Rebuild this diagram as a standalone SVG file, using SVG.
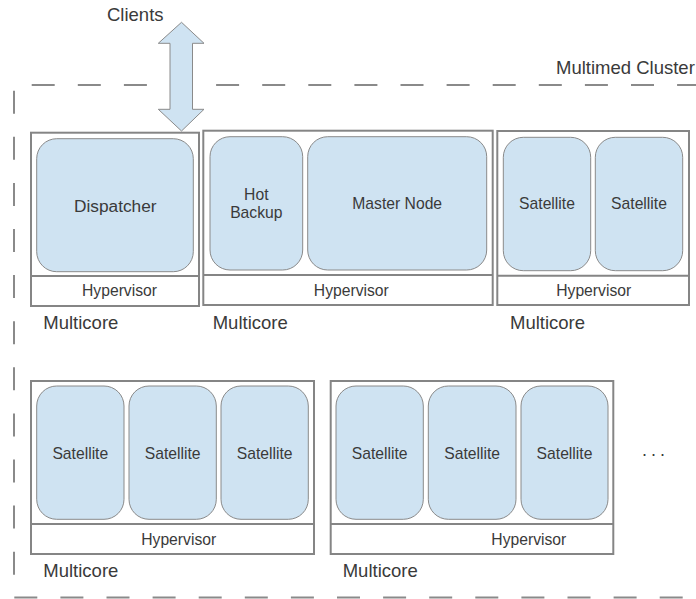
<svg xmlns="http://www.w3.org/2000/svg" width="696" height="599" viewBox="0 0 696 599">
<style>
text{font-family:"Liberation Sans",Arial,sans-serif;fill:#3a3a3a}
.mc{fill:#fff;stroke:#858585;stroke-width:2}
.vm{fill:#cfe3f2;stroke:#8a8a8a;stroke-width:1}
.dash{stroke:#8a8a8a;stroke-width:2;stroke-dasharray:23 23.1;fill:none}
.lbl{font-size:15.7px;text-anchor:middle}
.big{font-size:18.5px}
</style>
<rect width="696" height="599" fill="#fff"/>
<g id="cluster">
<line class="dash" x1="31.7" y1="85" x2="720" y2="85"/>
<line class="dash" x1="14" y1="90.7" x2="14" y2="576"/>
<line class="dash" x1="14.3" y1="597.5" x2="720" y2="597.5"/>
<text class="big" x="556" y="74">Multimed Cluster</text>
</g>
<g id="clients">
<text class="big" x="107" y="21">Clients</text>
</g>
<g id="connectors">
<polygon points="181.5,22.3 158.3,43.3 170,43.3 170,109.3 158.3,109.3 181.5,131 204,109.3 192.5,109.3 192.5,43.3 204,43.3" fill="#cfe3f2" stroke="#8a8a8a" stroke-width="1"/>
</g>
<g id="multicore1">
<rect class="mc" x="31" y="132.7" width="168" height="173.3"/>
<line x1="31" y1="276" x2="199" y2="276" stroke="#858585" stroke-width="2"/>
<rect class="vm" x="36.7" y="138.7" width="156.6" height="133" rx="20"/>
<text x="115.3" y="212" style="font-size:17.3px;text-anchor:middle">Dispatcher</text>
<text class="lbl" x="119.5" y="296">Hypervisor</text>
<text class="big" x="43.3" y="329">Multicore</text>
</g>
<g id="multicore2">
<rect class="mc" x="203.3" y="130.7" width="289.4" height="174.3"/>
<line x1="203.3" y1="275" x2="492.7" y2="275" stroke="#858585" stroke-width="2"/>
<rect class="vm" x="210" y="136.7" width="92.7" height="133.3" rx="20"/>
<text class="lbl" x="256.3" y="200">Hot</text>
<text class="lbl" x="256.3" y="218.3">Backup</text>
<rect class="vm" x="307.7" y="136.7" width="179" height="133.3" rx="20"/>
<text class="lbl" x="397.2" y="209.3">Master Node</text>
<text class="lbl" x="351.3" y="296">Hypervisor</text>
<text class="big" x="212.7" y="329">Multicore</text>
</g>
<g id="multicore3">
<rect class="mc" x="497.3" y="131" width="191.7" height="174"/>
<line x1="497.3" y1="275.7" x2="689" y2="275.7" stroke="#858585" stroke-width="2"/>
<rect class="vm" x="503.3" y="137.3" width="87.4" height="133.4" rx="20"/>
<text class="lbl" x="547" y="209.3">Satellite</text>
<rect class="vm" x="595.3" y="137.3" width="87.4" height="133.4" rx="20"/>
<text class="lbl" x="639" y="209.3">Satellite</text>
<text class="lbl" x="593.7" y="295.5">Hypervisor</text>
<text class="big" x="510" y="328.5">Multicore</text>
</g>
<g id="multicore4">
<rect class="mc" x="31" y="381" width="283" height="173"/>
<line x1="31" y1="524" x2="314" y2="524" stroke="#858585" stroke-width="2"/>
<rect class="vm" x="36.7" y="386" width="87.3" height="133.3" rx="20"/>
<text class="lbl" x="80.3" y="459.3">Satellite</text>
<rect class="vm" x="129" y="386" width="87.3" height="133.3" rx="20"/>
<text class="lbl" x="172.6" y="459.3">Satellite</text>
<rect class="vm" x="221" y="386" width="87.3" height="133.3" rx="20"/>
<text class="lbl" x="264.6" y="459.3">Satellite</text>
<text class="lbl" x="178.7" y="545">Hypervisor</text>
<text class="big" x="43.3" y="577">Multicore</text>
</g>
<g id="multicore5">
<rect class="mc" x="330.7" y="381" width="282.6" height="173"/>
<line x1="330.7" y1="524" x2="613.3" y2="524" stroke="#858585" stroke-width="2"/>
<rect class="vm" x="336" y="386" width="87.3" height="133.3" rx="20"/>
<text class="lbl" x="379.6" y="459.3">Satellite</text>
<rect class="vm" x="428.3" y="386" width="87.7" height="133.3" rx="20"/>
<text class="lbl" x="472.1" y="459.3">Satellite</text>
<rect class="vm" x="521" y="386" width="87" height="133.3" rx="20"/>
<text class="lbl" x="564.5" y="459.3">Satellite</text>
<text class="lbl" x="528.8" y="545">Hypervisor</text>
<text class="big" x="342.7" y="577">Multicore</text>
</g>
<g id="more">
<text x="642" y="456" style="font-size:18px;letter-spacing:4px">...</text>
</g>
</svg>
